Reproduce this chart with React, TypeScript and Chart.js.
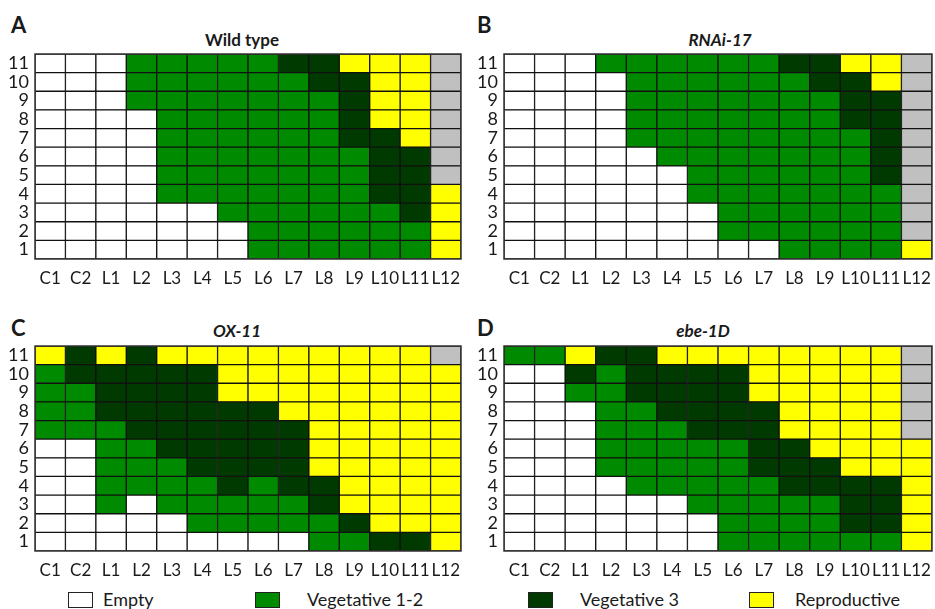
import React, { useEffect, useRef } from "react";
import { Chart, registerables } from "chart.js";

Chart.register(...registerables);

// Column categories (leaf positions) and row tick labels
const columns = ["C1", "C2", "L1", "L2", "L3", "L4", "L5", "L6", "L7", "L8", "L9", "L10", "L11", "L12"];
const rowLabels = ["1", "2", "3", "4", "5", "6", "7", "8", "9", "10", "11"];

// Stage codes per cell, listed from row 11 (top) down to row 1 (bottom)
// E = Empty, G = Vegetative 1-2, D = Vegetative 3, Y = Reproductive, X = not scored (grey)
const wildType = [
  "EEEGGGGGDDYYYX",
  "EEEGGGGGGDDYYX",
  "EEEGGGGGGGDYYX",
  "EEEEGGGGGGDYYX",
  "EEEEGGGGGGDDYX",
  "EEEEGGGGGGGDDX",
  "EEEEGGGGGGGDDX",
  "EEEEGGGGGGGDDY",
  "EEEEEEGGGGGGDY",
  "EEEEEEEGGGGGGY",
  "EEEEEEEGGGGGGY",
];
const rnai17 = [
  "EEEGGGGGGDDYYX",
  "EEEEGGGGGGDDYX",
  "EEEEGGGGGGGDDX",
  "EEEEGGGGGGGDDX",
  "EEEEGGGGGGGGDX",
  "EEEEEGGGGGGGDX",
  "EEEEEEGGGGGGDX",
  "EEEEEEGGGGGGGX",
  "EEEEEEEGGGGGGX",
  "EEEEEEEGGGGGGX",
  "EEEEEEEEEGGGGY",
];
const ox11 = [
  "YDYDYYYYYYYYYX",
  "GDDDDDYYYYYYYY",
  "GGDDDDYYYYYYYY",
  "GGDDDDDDYYYYYY",
  "GGGDDDDDDYYYYY",
  "EEGGDDDDDYYYYY",
  "EEGGGDDDDYYYYY",
  "EEGGGGDGDDYYYY",
  "EEGEGGGGGDYYYY",
  "EEEEEGGGGGDYYY",
  "EEEEEEEEEGGDDY",
];
const ebe1D = [
  "GGYDDYYYYYYYYX",
  "EEDGDDDDYYYYYX",
  "EEGGDDDDYYYYYX",
  "EEEGGDDDDYYYYX",
  "EEEGGGDDDYYYYX",
  "EEEGGGGGDDYYYY",
  "EEEGGGGGDDDYYY",
  "EEEEGGGGGDDDDY",
  "EEEEEEGGGGGDDY",
  "EEEEEEEGGGGDDY",
  "EEEEEEEGGGGGGY",
];

const stageColors: Record<string, string> = {
  E: "#ffffff",
  G: "#008a00",
  D: "#003a00",
  Y: "#ffff00",
  X: "#c0c0c0",
};

const legendLabels = ["Empty", "Vegetative 1-2", "Vegetative 3", "Reproductive"];
const legendCodes = ["E", "G", "D", "Y"];

const FONT = "Lato, 'Open Sans', sans-serif";
const TEXT = "#1a1a1a";

const outlinePlugin = {
  id: "outline",
  afterDatasetsDraw(chart: any) {
    const { ctx, chartArea } = chart;
    ctx.save();
    ctx.strokeStyle = "#333";
    ctx.lineWidth = 1.5;
    ctx.strokeRect(chartArea.left, chartArea.top, chartArea.right - chartArea.left, chartArea.bottom - chartArea.top);
    ctx.restore();
  },
};

type PanelProps = {
  grid: string[];
  left: number;
  top: number;
  width: number;
  height: number;
  yAxisWidth: number;
  rightPad: number;
};

function Panel({ grid, left, top, width, height, yAxisWidth, rightPad }: PanelProps) {
  const ref = useRef<HTMLCanvasElement | null>(null);
  useEffect(() => {
    if (!ref.current) return;
    const nRows = rowLabels.length;
    const datasets = rowLabels.map((_, r) => {
      const rowCodes = grid[nRows - 1 - r];
      return {
        label: rowLabels[r],
        data: columns.map(() => 1),
        backgroundColor: columns.map((_, c) => stageColors[rowCodes[c]]),
        borderColor: "#111",
        borderWidth: 1,
        borderSkipped: false as const,
        barPercentage: 1,
        categoryPercentage: 1,
      };
    });
    const chart = new Chart(ref.current, {
      type: "bar",
      data: { labels: columns, datasets },
      options: {
        responsive: false,
        animation: false,
        maintainAspectRatio: false,
        layout: { padding: { top: 4, right: rightPad, left: 0, bottom: 0 } },
        plugins: { legend: { display: false }, tooltip: { enabled: false }, title: { display: false } },
        scales: {
          x: {
            stacked: true,
            grid: { display: false, drawTicks: false },
            border: { display: false },
            ticks: {
              autoSkip: false,
              maxRotation: 0,
              padding: 9,
              color: TEXT,
              font: { family: FONT, size: 17 },
            },
            afterFit: (scale: any) => {
              scale.height = 31;
              scale.paddingLeft = 0;
              scale.paddingRight = 0;
            },
          },
          y: {
            stacked: true,
            min: 0,
            max: nRows,
            grid: { display: false, drawTicks: false },
            border: { display: false },
            afterBuildTicks: (axis: any) => {
              axis.ticks = rowLabels.map((_, i) => ({ value: i + 0.5 }));
            },
            ticks: {
              autoSkip: false,
              padding: 6,
              color: TEXT,
              font: { family: FONT, size: 18 },
              callback: (value: any) => rowLabels[Math.floor(Number(value))],
            },
            afterFit: (scale: any) => {
              scale.width = yAxisWidth;
              scale.paddingTop = 0;
              scale.paddingBottom = 0;
            },
          },
        },
      },
      plugins: [outlinePlugin],
    });
    return () => chart.destroy();
  }, [grid, yAxisWidth, rightPad]);
  return (
    <canvas
      ref={ref}
      width={width}
      height={height}
      style={{ position: "absolute", left, top, width, height }}
    />
  );
}

const panels = [
  { letter: "A", title: "Wild type", italic: false, grid: wildType, left: 0, top: 50, width: 466, yAxisWidth: 35, rightPad: 5, letterX: 11, letterY: 13, titleX: 242, titleY: 40 },
  { letter: "B", title: "RNAi-17", italic: true, grid: rnai17, left: 470, top: 50, width: 465, yAxisWidth: 34, rightPad: 3, letterX: 477, letterY: 13, titleX: 720, titleY: 40 },
  { letter: "C", title: "OX-11", italic: true, grid: ox11, left: 0, top: 342, width: 466, yAxisWidth: 35, rightPad: 5, letterX: 11, letterY: 316, titleX: 237, titleY: 331 },
  { letter: "D", title: "ebe-1D", italic: true, grid: ebe1D, left: 470, top: 342, width: 465, yAxisWidth: 34, rightPad: 3, letterX: 477, letterY: 316, titleX: 703, titleY: 331 },
];

const legendPos = [
  { boxX: 68, textX: 103 },
  { boxX: 255, textX: 307 },
  { boxX: 528, textX: 580 },
  { boxX: 749, textX: 795 },
];

export default function App() {
  return (
    <div
      style={{
        position: "absolute",
        left: 0,
        top: 0,
        width: 935,
        height: 609,
        background: "#fff",
        overflow: "hidden",
        fontFamily: FONT,
        color: TEXT,
      }}
    >
      {panels.map((p) => (
        <React.Fragment key={p.letter}>
          <div
            style={{
              position: "absolute",
              left: p.letterX,
              top: p.letterY,
              fontSize: 22,
              fontWeight: 700,
              lineHeight: "24px",
            }}
          >
            {p.letter}
          </div>
          <div
            style={{
              position: "absolute",
              left: p.titleX - 100,
              width: 200,
              top: p.titleY - 10,
              textAlign: "center",
              fontSize: 17,
              fontWeight: 700,
              fontStyle: p.italic ? "italic" : "normal",
              lineHeight: "20px",
            }}
          >
            {p.title}
          </div>
          <Panel
            grid={p.grid}
            left={p.left}
            top={p.top}
            width={p.width}
            height={240}
            yAxisWidth={p.yAxisWidth}
            rightPad={p.rightPad}
          />
        </React.Fragment>
      ))}
      {legendLabels.map((label, i) => (
        <React.Fragment key={label}>
          <div
            style={{
              position: "absolute",
              left: legendPos[i].boxX,
              top: 592,
              width: 23,
              height: 14,
              background: stageColors[legendCodes[i]],
              border: "1.5px solid #222",
            }}
          />
          <div
            style={{
              position: "absolute",
              left: legendPos[i].textX,
              top: 588,
              fontSize: 18,
              lineHeight: "22px",
              whiteSpace: "nowrap",
            }}
          >
            {label}
          </div>
        </React.Fragment>
      ))}
    </div>
  );
}
